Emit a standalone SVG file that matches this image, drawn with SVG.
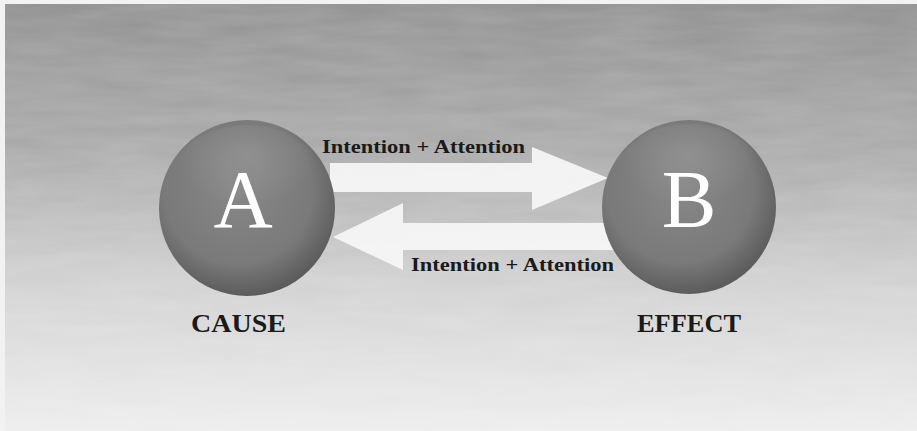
<svg xmlns="http://www.w3.org/2000/svg" width="917" height="431" viewBox="0 0 917 431">
<defs>
<linearGradient id="bg" x1="0" y1="0" x2="0" y2="1">
<stop offset="0" stop-color="#8f8f8f"/>
<stop offset="0.35" stop-color="#a9a9a9"/>
<stop offset="0.65" stop-color="#d0d0d0"/>
<stop offset="1" stop-color="#ededed"/>
</linearGradient>
<radialGradient id="sph" cx="0.45" cy="0.4" r="0.6">
<stop offset="0" stop-color="#878787"/>
<stop offset="0.7" stop-color="#7a7a7a"/>
<stop offset="1" stop-color="#5c5c5c"/>
</radialGradient>
<radialGradient id="hl" cx="0.5" cy="0.3" r="0.5">
<stop offset="0" stop-color="#ffffff" stop-opacity="0.12"/>
<stop offset="1" stop-color="#ffffff" stop-opacity="0"/>
</radialGradient>
<filter id="tex" x="0" y="0" width="1" height="1">
<feTurbulence type="fractalNoise" baseFrequency="0.012 0.08" numOctaves="3" seed="4"/>
<feColorMatrix type="matrix" values="0 0 0 0 1  0 0 0 0 1  0 0 0 0 1  0 0 0 0.18 0"/>
</filter>
<style>
.lbl{font-family:"Liberation Serif","Times New Roman",serif;font-weight:bold;fill:#1a1a1a;}
.big{font-family:"Liberation Serif","Times New Roman",serif;fill:#ffffff;text-anchor:middle;}
.arrow{fill:#f5f5f5;fill-opacity:0.95;}
</style>
</defs>
<rect width="917" height="431" fill="#f2f2f2"/>
<rect x="5" y="4" width="912" height="427" fill="url(#bg)"/>
<rect x="5" y="4" width="912" height="427" filter="url(#tex)"/>
<g id="connectors">
<path class="arrow" d="M330 163 L532 163 L532 147 L608 178 L532 210 L532 192 L330 192 Z"/>
<path class="arrow" d="M620 223 L403 223 L403 203 L333 237 L403 270 L403 250 L620 250 Z"/>
<text class="lbl" x="322" y="153" font-size="19.5" textLength="203" lengthAdjust="spacingAndGlyphs">Intention + Attention</text>
<text class="lbl" x="411" y="271" font-size="19.5" textLength="203" lengthAdjust="spacingAndGlyphs">Intention + Attention</text>
</g>
<g id="nodeA">
<circle cx="247" cy="208" r="88" fill="url(#sph)"/>
<ellipse cx="247" cy="175" rx="72" ry="50" fill="url(#hl)"/>
<text class="big" x="243" y="227" font-size="82">A</text>
<text class="lbl" x="191" y="332" font-size="25.5" textLength="95" lengthAdjust="spacingAndGlyphs">CAUSE</text>
</g>
<g id="nodeB">
<circle cx="689" cy="207" r="87" fill="url(#sph)"/>
<ellipse cx="689" cy="174" rx="71" ry="50" fill="url(#hl)"/>
<text class="big" x="689" y="227" font-size="82">B</text>
<text class="lbl" x="637" y="332" font-size="25.5" textLength="104" lengthAdjust="spacingAndGlyphs">EFFECT</text>
</g>
</svg>
